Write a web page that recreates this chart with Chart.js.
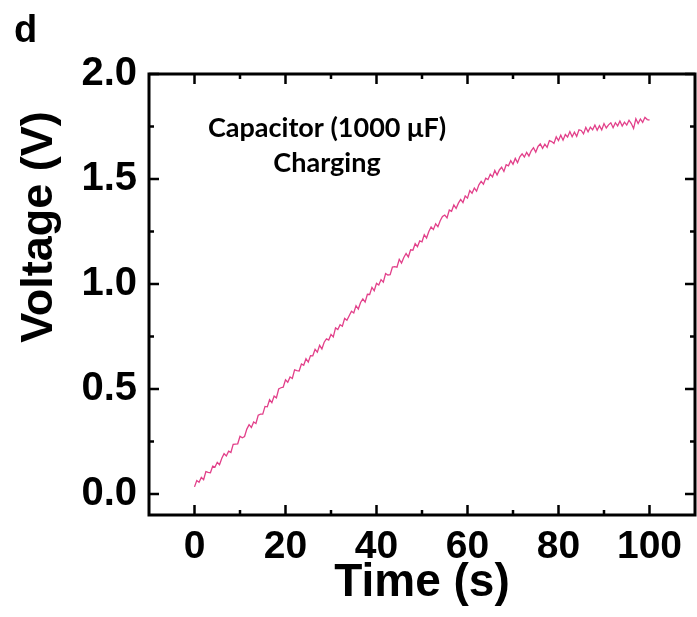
<!DOCTYPE html>
<html>
<head>
<meta charset="utf-8">
<script src="https://cdn.jsdelivr.net/npm/chart.js@4"></script>
<style>
  html, body { margin: 0; padding: 0; background: #fff; }
  canvas { display: block; }
</style>
</head>
<body>
<canvas id="chart" width="697" height="617"></canvas>
<script>
// sample times (s)
const times = [
  0, 0.5, 1, 1.5, 2, 2.5, 3, 3.5, 4, 4.5,
  5, 5.5, 6, 6.5, 7, 7.5, 8, 8.5, 9, 9.5,
  10, 10.5, 11, 11.5, 12, 12.5, 13, 13.5, 14, 14.5,
  15, 15.5, 16, 16.5, 17, 17.5, 18, 18.5, 19, 19.5,
  20, 20.5, 21, 21.5, 22, 22.5, 23, 23.5, 24, 24.5,
  25, 25.5, 26, 26.5, 27, 27.5, 28, 28.5, 29, 29.5,
  30, 30.5, 31, 31.5, 32, 32.5, 33, 33.5, 34, 34.5,
  35, 35.5, 36, 36.5, 37, 37.5, 38, 38.5, 39, 39.5,
  40, 40.5, 41, 41.5, 42, 42.5, 43, 43.5, 44, 44.5,
  45, 45.5, 46, 46.5, 47, 47.5, 48, 48.5, 49, 49.5,
  50, 50.5, 51, 51.5, 52, 52.5, 53, 53.5, 54, 54.5,
  55, 55.5, 56, 56.5, 57, 57.5, 58, 58.5, 59, 59.5,
  60, 60.5, 61, 61.5, 62, 62.5, 63, 63.5, 64, 64.5,
  65, 65.5, 66, 66.5, 67, 67.5, 68, 68.5, 69, 69.5,
  70, 70.5, 71, 71.5, 72, 72.5, 73, 73.5, 74, 74.5,
  75, 75.5, 76, 76.5, 77, 77.5, 78, 78.5, 79, 79.5,
  80, 80.5, 81, 81.5, 82, 82.5, 83, 83.5, 84, 84.5,
  85, 85.5, 86, 86.5, 87, 87.5, 88, 88.5, 89, 89.5,
  90, 90.5, 91, 91.5, 92, 92.5, 93, 93.5, 94, 94.5,
  95, 95.5, 96, 96.5, 97, 97.5, 98, 98.5, 99, 99.5,
  100
];

const voltage = [
  0.034, 0.064, 0.056, 0.079, 0.068, 0.107, 0.103, 0.101, 0.133, 0.128,
  0.151, 0.139, 0.170, 0.192, 0.181, 0.204, 0.198, 0.236, 0.238, 0.239,
  0.275, 0.268, 0.274, 0.309, 0.330, 0.317, 0.343, 0.336, 0.375, 0.380,
  0.380, 0.417, 0.415, 0.449, 0.435, 0.466, 0.458, 0.500, 0.506, 0.509,
  0.544, 0.532, 0.557, 0.550, 0.591, 0.587, 0.586, 0.619, 0.613, 0.644,
  0.628, 0.659, 0.658, 0.689, 0.675, 0.708, 0.691, 0.723, 0.739, 0.733,
  0.760, 0.748, 0.791, 0.783, 0.806, 0.799, 0.836, 0.827, 0.849, 0.870,
  0.862, 0.897, 0.881, 0.912, 0.929, 0.914, 0.951, 0.950, 0.984, 0.968,
  1.003, 0.995, 1.021, 1.009, 1.050, 1.043, 1.044, 1.081, 1.083, 1.080,
  1.117, 1.100, 1.126, 1.145, 1.129, 1.163, 1.161, 1.192, 1.178, 1.205,
  1.201, 1.235, 1.219, 1.250, 1.272, 1.259, 1.287, 1.273, 1.301, 1.322,
  1.328, 1.315, 1.352, 1.346, 1.376, 1.360, 1.385, 1.403, 1.388, 1.419,
  1.409, 1.445, 1.432, 1.457, 1.442, 1.472, 1.489, 1.475, 1.504, 1.497,
  1.523, 1.510, 1.541, 1.519, 1.543, 1.556, 1.536, 1.568, 1.563, 1.587,
  1.570, 1.598, 1.578, 1.606, 1.620, 1.605, 1.627, 1.609, 1.634, 1.649,
  1.628, 1.655, 1.667, 1.646, 1.666, 1.651, 1.683, 1.678, 1.669, 1.701,
  1.683, 1.709, 1.685, 1.712, 1.700, 1.726, 1.701, 1.723, 1.703, 1.734,
  1.731, 1.715, 1.746, 1.725, 1.747, 1.734, 1.757, 1.732, 1.754, 1.734,
  1.764, 1.743, 1.758, 1.768, 1.744, 1.768, 1.753, 1.776, 1.752, 1.771,
  1.757, 1.780, 1.764, 1.740, 1.787, 1.764, 1.786, 1.770, 1.794, 1.783,
  1.781
];

const xTicks = [0, 20, 40, 60, 80, 100];
const xMinorTicks = [10, 30, 50, 70, 90];
const yTicks = [0, 0.5, 1.0, 1.5, 2.0];
const yMinorTicks = [0.25, 0.75, 1.25, 1.75];
const noteLines = ['Capacitor (1000 μF)', 'Charging'];

Chart.defaults.font.family = '"Liberation Sans", Arial, sans-serif';
Chart.defaults.color = '#000';

// frame, inward ticks (all four sides) and the extra labels
const framePlugin = {
  id: 'frame',
  afterDraw(chart) {
    const { ctx, chartArea: a, scales: { x, y } } = chart;
    ctx.save();
    ctx.strokeStyle = '#000';
    ctx.lineWidth = 2.5;
    ctx.beginPath();
    const tick = (vals, len) => {
      vals.forEach((v) => {
        const px = x.getPixelForValue(v);
        ctx.moveTo(px, a.bottom); ctx.lineTo(px, a.bottom - len);
        ctx.moveTo(px, a.top); ctx.lineTo(px, a.top + len);
      });
    };
    const ytick = (vals, len) => {
      vals.forEach((v) => {
        const py = y.getPixelForValue(v);
        ctx.moveTo(a.left, py); ctx.lineTo(a.left + len, py);
        ctx.moveTo(a.right, py); ctx.lineTo(a.right - len, py);
      });
    };
    tick(xTicks, 10);
    tick(xMinorTicks, 5);
    ytick(yTicks, 10);
    ytick(yMinorTicks, 5);
    ctx.stroke();
    ctx.lineWidth = 3;
    ctx.strokeRect(a.left, a.top, a.right - a.left, a.bottom - a.top);

    ctx.fillStyle = '#000';
    ctx.font = 'bold 38px "Liberation Sans", Arial';
    ctx.textAlign = 'left';
    ctx.textBaseline = 'alphabetic';
    ctx.fillText('d', 14, 42);

    ctx.font = 'bold 27px Lato, "Open Sans", sans-serif';
    ctx.textAlign = 'center';
    ctx.fillText(noteLines[0], 327, 137);
    ctx.fillText(noteLines[1], 327, 172);

    ctx.translate(40, 227);
    ctx.rotate(-Math.PI / 2);
    ctx.font = 'bold 45px "Liberation Sans", Arial';
    ctx.textBaseline = 'middle';
    ctx.fillText('Voltage (V)', 0, 0);
    ctx.restore();
  }
};

new Chart(document.getElementById('chart'), {
  type: 'line',
  data: {
    datasets: [{
      data: times.map((t, i) => ({ x: t, y: voltage[i] })),
      borderColor: '#e2408a',
      borderWidth: 1.3,
      pointRadius: 0,
      tension: 0,
      fill: false
    }]
  },
  options: {
    responsive: false,
    animation: false,
    devicePixelRatio: 1,
    layout: { padding: { top: 74, right: 2, left: 0, bottom: 0 } },
    plugins: { legend: { display: false }, tooltip: { enabled: false } },
    scales: {
      x: {
        type: 'linear',
        min: -10,
        max: 110,
        afterBuildTicks: (scale) => { scale.ticks = xTicks.map((v) => ({ value: v })); },
        afterFit: (scale) => { scale.height = 102; },
        grid: { display: false, drawTicks: false },
        border: { display: false },
        ticks: {
          autoSkip: false,
          maxRotation: 0,
          padding: 9,
          font: { size: 39, weight: 'bold' }
        },
        title: {
          display: true,
          text: 'Time (s)',
          font: { size: 46, weight: 'bold' },
          padding: { top: 0, bottom: 6 }
        }
      },
      y: {
        min: -0.1,
        max: 2.0,
        afterBuildTicks: (scale) => { scale.ticks = yTicks.map((v) => ({ value: v })); },
        afterFit: (scale) => { scale.width = 149; },
        grid: { display: false, drawTicks: false },
        border: { display: false },
        ticks: {
          padding: 12,
          font: { size: 40, weight: 'bold' },
          callback: (v) => v.toFixed(1)
        }
      }
    }
  },
  plugins: [framePlugin]
});
</script>
</body>
</html>
